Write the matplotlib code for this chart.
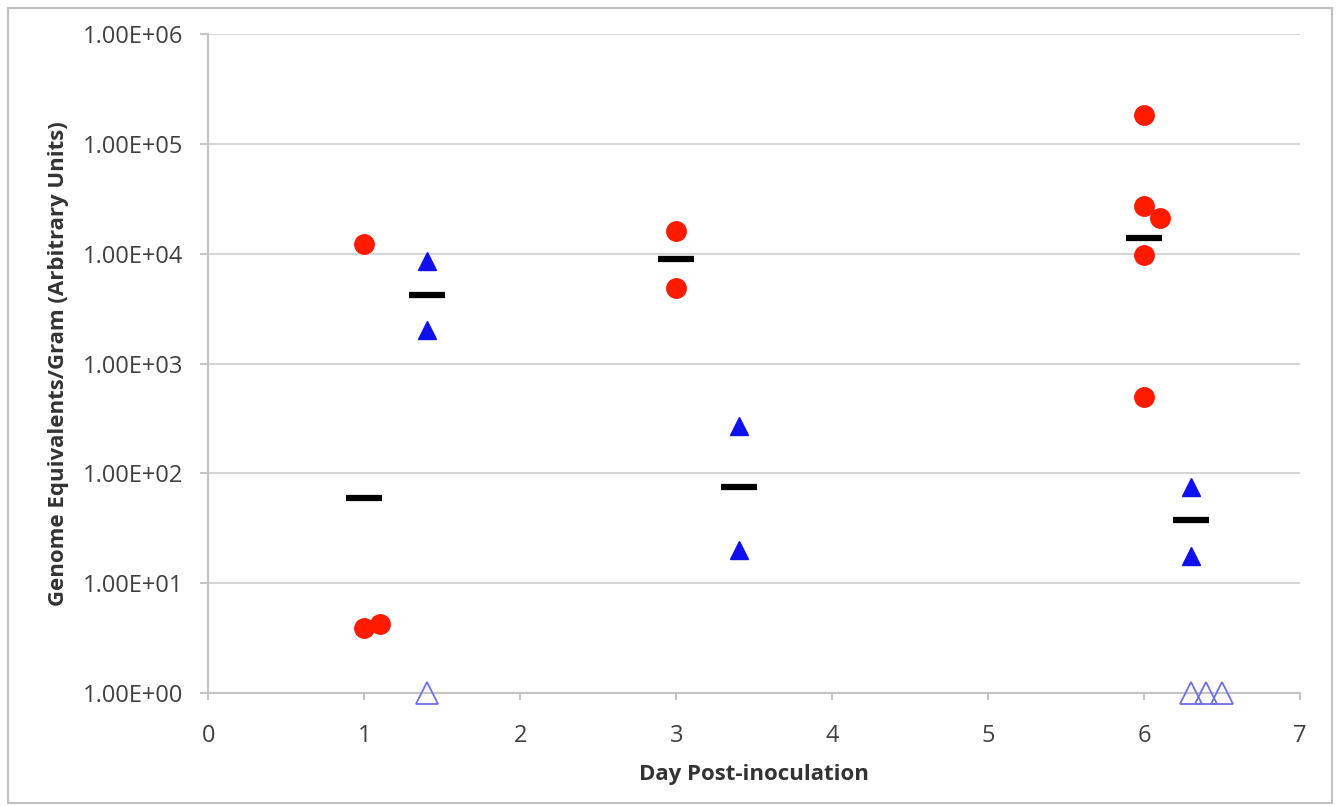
import numpy as np
import matplotlib
matplotlib.use("Agg")
import matplotlib.pyplot as plt
from matplotlib.ticker import FixedLocator, FuncFormatter

plt.rcParams['font.family'] = ['Open Sans', 'DejaVu Sans']

# red circles (one group per day)
red_x = [1, 1, 1.1, 3, 3, 6, 6, 6.1, 6, 6]
red_y = [1.23e4, 3.9, 4.25, 1.6e4, 4.9e3, 1.83e5, 2.7e4, 2.1e4, 9.8e3, 500]

# filled blue triangles
blue_x = [1.4, 1.4, 3.4, 3.4, 6.3, 6.3]
blue_y = [8.5e3, 2.0e3, 270, 20, 75, 17.6]

# open blue triangles (below detection)
open_x = [1.4, 6.3, 6.4, 6.5]
open_y = [1, 1, 1, 1]

# group means (black bars)
mean_x = [1, 1.4, 3, 3.4, 6, 6.3]
mean_y = [60, 4.2e3, 9.0e3, 75, 1.4e4, 38]

fig = plt.figure(figsize=(13.36, 8.06), dpi=100)
ax = fig.add_axes([0.156, 0.140, 0.817, 0.818])

ax.plot(mean_x, mean_y, linestyle='none', marker='_', markersize=26,
        markeredgewidth=4.5, color='black', zorder=3)
ax.plot(red_x, red_y, linestyle='none', marker='o', markersize=14,
        color='#ff1a00', zorder=4)
ax.plot(blue_x, blue_y, linestyle='none', marker='^', markersize=13,
        color='#1010ee', zorder=4)
ax.plot(open_x, open_y, linestyle='none', marker='^', markersize=16,
        markerfacecolor='none', markeredgecolor='#7070e0', markeredgewidth=1.3,
        zorder=4, clip_on=False)

ax.set_yscale('log')
ax.set_ylim(1, 1e6)
ax.set_xlim(0, 7)
ax.yaxis.set_major_locator(FixedLocator([10.0 ** k for k in range(7)]))
ax.yaxis.set_minor_locator(FixedLocator([]))
ax.yaxis.set_major_formatter(FuncFormatter(lambda v, p: '%.2fE+%02d' % (1.0, round(np.log10(v)))))
ax.set_xticks(range(8))

ax.grid(axis='y', color='#d6d6d6', linewidth=1.5)
ax.set_axisbelow(True)
for s in ['top', 'right']:
    ax.spines[s].set_visible(False)
ax.spines['left'].set_color('#c4c4c4')
ax.spines['bottom'].set_color('#c4c4c4')
ax.spines['left'].set_linewidth(1.5)
ax.spines['bottom'].set_linewidth(1.5)
ax.tick_params(axis='y', length=6, color='#c4c4c4', width=1.5, labelsize=17,
               labelcolor='#404040', pad=12)
ax.tick_params(axis='x', length=5, color='#c4c4c4', width=1.5, labelsize=17,
               labelcolor='#404040', pad=17)

ax.set_xlabel('Day Post-inoculation', fontsize=16, fontweight='bold', color='#333333', labelpad=12)
ax.set_ylabel('Genome Equivalents/Gram (Arbitrary Units)', fontsize=16,
              fontweight='bold', color='#333333', labelpad=10)

# outer chart border
fig.patches.append(plt.Rectangle((0.006, 0.004), 0.991, 0.986, transform=fig.transFigure,
                                 fill=False, edgecolor='#c0c0c0', linewidth=1.5))

fig.savefig('out.png', dpi=100)
